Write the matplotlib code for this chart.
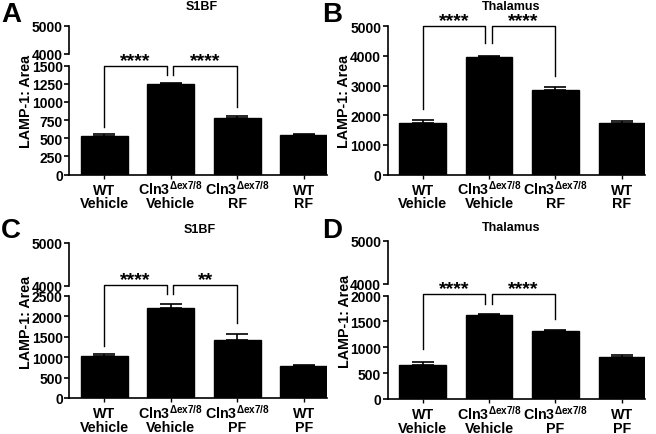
import numpy as np
import matplotlib.pyplot as plt
from matplotlib.transforms import blended_transform_factory

plt.rcParams['font.family'] = ['Liberation Sans', 'DejaVu Sans']
plt.rcParams['font.weight'] = 'bold'
plt.rcParams['mathtext.fontset'] = 'custom'
plt.rcParams['mathtext.rm'] = 'Liberation Sans'
plt.rcParams['mathtext.it'] = 'Liberation Sans:italic'
plt.rcParams['mathtext.bf'] = 'Liberation Sans:bold'

# ------------------------------
# Data
# ------------------------------
cln3 = r'Cln3$^{\Delta\mathrm{ex7/8}}$'
labels_top = ['WT', cln3, cln3, 'WT']
labels_rf = ['Vehicle', 'Vehicle', 'RF', 'RF']
labels_pf = ['Vehicle', 'Vehicle', 'PF', 'PF']

s1bf_rf = [530, 1245, 775, 545]
s1bf_rf_err = [30, 12, 28, 10]
thal_rf = [1750, 3950, 2840, 1730]
thal_rf_err = [90, 55, 115, 75]
s1bf_pf = [1030, 2190, 1420, 780]
s1bf_pf_err = [40, 105, 155, 25]
thal_pf = [650, 1625, 1315, 820]
thal_pf_err = [65, 12, 18, 32]

# significance brackets: (x0, x1, leg0, leg1, top, stars)
sig_a = [(0, 0.94, 660, 1365, 1500, '****'), (1.04, 2, 1365, 925, 1500, '****')]
sig_b = [(0, 0.94, 2220, 4450, 5000, '****'), (1.04, 2, 4450, 3320, 5000, '****')]
sig_c = [(0, 0.94, 1270, 2540, 2760, '****'), (1.04, 2, 2540, 1845, 2760, '**')]
sig_d = [(0, 0.94, 960, 1830, 2030, '****'), (1.04, 2, 1830, 1540, 2030, '****')]

W, H = 656, 435
fig = plt.figure(figsize=(W / 100, H / 100), dpi=100)

LW = 1.2


def rect(x0, x1, ytop, ybot):
    return [x0 / W, 1 - ybot / H, (x1 - x0) / W, (ybot - ytop) / H]


def style_left(ax):
    for s in ['top', 'right']:
        ax.spines[s].set_visible(False)
    ax.spines['left'].set_linewidth(LW)
    ax.spines['bottom'].set_linewidth(LW)
    ax.tick_params(axis='y', length=3.5, width=LW, labelsize=10, pad=1)
    for t in ax.get_yticklabels():
        t.set_fontweight('bold')


def draw_panel(x0, x1, ytop, ybot, ylim, yticks, vals, errs, bottom_labels, sig,
               brk=None, star_off=0.0):
    ax = fig.add_axes(rect(x0, x1, ytop, ybot))
    x = np.arange(len(vals))
    ax.bar(x, vals, width=0.7, color='black', edgecolor='black')
    ax.errorbar(x, vals, yerr=[np.zeros(len(errs)), errs], fmt='none',
                ecolor='black', elinewidth=LW, capsize=8, capthick=LW)
    ax.set_xlim(-0.53, 3.35)
    ax.set_ylim(*ylim)
    ax.set_yticks(yticks)
    ax.set_xticks(x)
    ax.set_xticklabels([])
    ax.tick_params(axis='x', length=3, width=1.0)
    style_left(ax)
    # two-line category labels on fixed baselines
    tr = blended_transform_factory(ax.transData, fig.transFigure)
    for xi, l1, l2 in zip(x, labels_top, bottom_labels):
        ax.text(xi, 1 - (ybot + 19.5) / H, l1, transform=tr, ha='center',
                va='baseline', fontsize=10.3, fontweight='bold')
        ax.text(xi, 1 - (ybot + 33) / H, l2, transform=tr, ha='center',
                va='baseline', fontsize=10.3, fontweight='bold')
    # brackets
    for (a, b, l0, l1, top, lab) in sig:
        ax.plot([a, a, b, b], [l0, top, top, l1], color='black', lw=1.0,
                clip_on=False)
        ax.text((a + b) / 2, top + star_off, lab, ha='center', va='bottom',
                fontsize=14, fontweight='bold', clip_on=False)
    if brk is not None:
        btop, bbot = brk
        ax2 = fig.add_axes(rect(x0, x1, btop, bbot))
        ax2.set_ylim(4000, 5000)
        ax2.set_yticks([4000, 5000])
        ax2.set_xlim(-0.53, 3.35)
        ax2.set_xticks([])
        ax2.patch.set_alpha(0)
        style_left(ax2)
        ax2.spines['bottom'].set_visible(False)
    return ax


ylab = 'LAMP-1: Area'

# A
axA = draw_panel(69, 327, 66.7, 175.5, (0, 1500), range(0, 1501, 250),
                 s1bf_rf, s1bf_rf_err, labels_rf, sig_a, brk=(27, 54.5),
                 star_off=-40)
# B
axB = draw_panel(387.5, 645, 27.3, 175.5, (0, 5000), range(0, 5001, 1000),
                 thal_rf, thal_rf_err, labels_rf, sig_b, star_off=-110)
# C
axC = draw_panel(69, 327, 296.7, 399, (0, 2500), range(0, 2501, 500),
                 s1bf_pf, s1bf_pf_err, labels_pf, sig_c, brk=(244, 286.5),
                 star_off=-70)
# D
axD = draw_panel(387.5, 645, 296.5, 400, (0, 2000), range(0, 2001, 500),
                 thal_pf, thal_pf_err, labels_pf, sig_d, brk=(242, 285),
                 star_off=-60)

# y labels, titles, panel letters
for (xl, yl) in [(26, 101), (344, 101), (26, 322), (345, 321)]:
    fig.text(xl / W, 1 - yl / H, ylab, rotation=90, ha='center', va='center',
             fontsize=10.3, fontweight='bold')

for (xt, yt, t) in [(202, 7, 'S1BF'), (511, 7, 'Thalamus'),
                    (200, 230, 'S1BF'), (511, 228, 'Thalamus')]:
    fig.text(xt / W, 1 - yt / H, t, ha='center', va='center', fontsize=9,
             fontweight='bold')

for (xp, yp, t) in [(1, 15, 'A'), (322, 15, 'B'), (1, 231, 'C'), (322, 231, 'D')]:
    fig.text(xp / W, 1 - yp / H, t, ha='left', va='center', fontsize=20,
             fontweight='bold')

fig.savefig('out.png', dpi=100)
